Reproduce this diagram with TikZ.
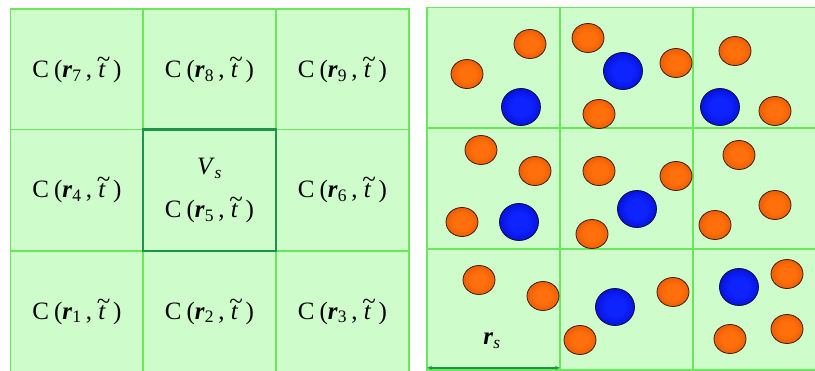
\documentclass[tikz,border=0pt]{standalone}
\usepackage{fontspec}
\setmainfont{Liberation Serif}
\usetikzlibrary{shapes.geometric,arrows.meta}

\definecolor{cellgreen}{RGB}{206,252,202}
\definecolor{gridgreen}{RGB}{104,232,90}
\definecolor{darkgreen}{RGB}{28,148,78}
\definecolor{orangelight}{RGB}{255,112,12}
\definecolor{orangemid}{RGB}{235,90,0}
\definecolor{orangedark}{RGB}{140,52,0}
\definecolor{orangeedge}{RGB}{60,30,10}
\definecolor{bluelight}{RGB}{15,35,255}
\definecolor{bluemid}{RGB}{0,15,210}
\definecolor{bluedark}{RGB}{0,8,120}
\definecolor{blueedge}{RGB}{10,10,55}

\pgfdeclareradialshading{orangeshade}{\pgfpoint{0bp}{0bp}}{color(0bp)=(orangelight); color(12bp)=(orangelight); color(28bp)=(orangemid); color(40bp)=(orangedark); color(50bp)=(orangeedge)}
\pgfdeclareradialshading{blueshade}{\pgfpoint{0bp}{0bp}}{color(0bp)=(bluelight); color(12bp)=(bluelight); color(30bp)=(bluemid); color(42bp)=(bluedark); color(50bp)=(blueedge)}

\newcommand{\tildet}{\rlap{\makebox[0.42em]{\raisebox{0.40em}{\textasciitilde}}}\textit{t}}
\newcommand{\Cfun}[1]{C\hspace{0.2em}(\textbf{\textit{r}}\textsubscript{#1}\,,\hspace{0.25em}\tildet\hspace{0.3em})}

\tikzset{
  cellbox/.style={rectangle, draw=gridgreen, fill=cellgreen, line width=1.7pt,
    minimum width=133pt, minimum height=121.3pt, inner sep=0pt, outer sep=0pt,
    font=\fontsize{25}{29}\selectfont},
  oball/.style={ellipse, draw=orangeedge, line width=0.8pt, shading=orangeshade,
    minimum width=32pt, minimum height=29pt, inner sep=0pt},
  bball/.style={ellipse, draw=blueedge, line width=0.8pt, shading=blueshade,
    minimum width=39pt, minimum height=37pt, inner sep=0pt},
}

\begin{document}
\begin{tikzpicture}[x=1pt,y=-1pt]
  \useasboundingbox (0,0) rectangle (815,371);
  % left grid
  \node[cellbox] (a7) at (77,70) {\Cfun{7}};
  \node[cellbox] (a8) at (209.5,70) {\Cfun{8}};
  \node[cellbox] (a9) at (342.5,70) {\Cfun{9}};
  \node[cellbox] (a4) at (77,190.3) {\Cfun{4}};
  \node[cellbox] (a6) at (342.5,190.3) {\Cfun{6}};
  \node[cellbox] (a1) at (77,311.6) {\Cfun{1}};
  \node[cellbox] (a2) at (209.5,311.6) {\Cfun{2}};
  \node[cellbox] (a3) at (342.5,311.6) {\Cfun{3}};
  \node[cellbox, draw=darkgreen, line width=2.6pt, align=center] (a5) at (209.5,190.3)
    {\textit{V}\textsubscript{\textit{s}}\\[14pt]\Cfun{5}};
  % right grid
  \foreach \x/\y [count=\i] in {493.5/310, 626.5/310, 759.5/310,
                                493.5/189, 626.5/189, 759.5/189,
                                493.5/68, 626.5/68, 759.5/68}
    \node[cellbox, minimum height=120.7pt] (b\i) at (\x,\y) {};
  % particles
  \foreach \p [count=\i] in {(530,44),(467,74),(588,38),(676,63),(599,114),(735,51),
      (775,111),(481,150),(535,171),(462,222),(599,171),(676,176),(592,234),(739,155),
      (775,205),(715,225),(479,280),(543,296),(673,292),(580,340),(787,274),(730,339),(787,329)}
    \node[oball] (o\i) at \p {};
  \foreach \p [count=\i] in {(521,107),(623,71),(720,107),(519,222),(637,209),(615,307),(739,287)}
    \node[bball] (s\i) at \p {};
  % cell size
  \draw[{Stealth[length=5pt]}-{Stealth[length=5pt]}, darkgreen, line width=1.5pt]
    ([yshift=2.5pt]b1.south west) -- ([yshift=2.5pt]b1.south east);
  \node[font=\fontsize{25}{29}\selectfont] (rs) at (492,341) {\textbf{\textit{r}}\textsubscript{\textit{s}}};
\end{tikzpicture}
\end{document}
